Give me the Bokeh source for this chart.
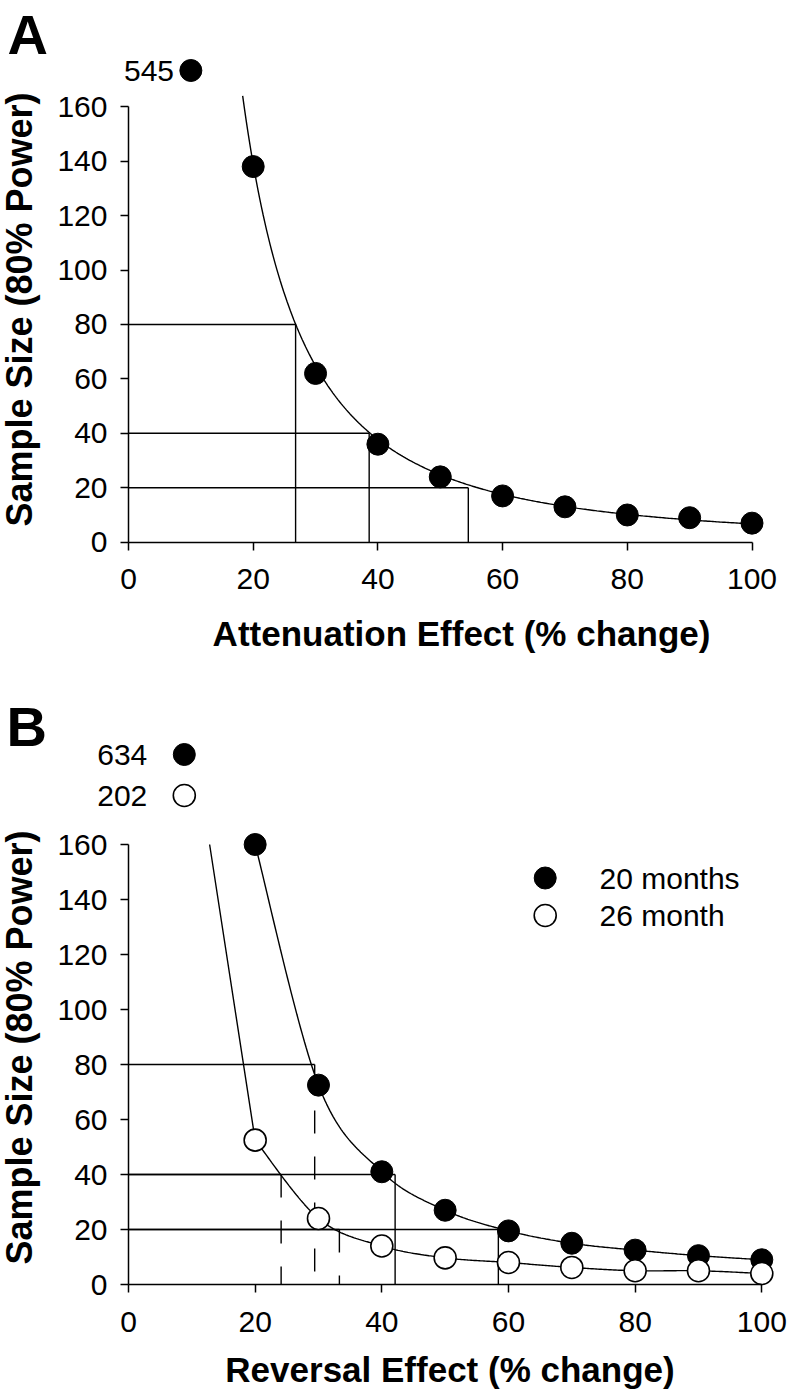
import numpy as np
from bokeh.plotting import figure
from bokeh.layouts import column
from bokeh.models import Range1d, FixedTicker
from bokeh.core.properties import value
from bokeh.embed import file_html
from bokeh.resources import INLINE

# ---------------- data ----------------
effect = [10, 20, 30, 40, 50, 60, 70, 80, 90, 100]
attenuation_n = [545, 138, 62, 36, 24, 17, 13, 10, 9, 7]
reversal_20mo_n = [634, 160, 72.5, 41, 27, 19.5, 15, 12.5, 10.5, 9]
reversal_26mo_n = [202, 52.5, 24, 14, 9.7, 8, 6.2, 5, 5, 4]

x_tick_values = [0, 20, 40, 60, 80, 100]
y_tick_values = [0, 20, 40, 60, 80, 100, 120, 140, 160]

att_ref_n = [80, 40, 20]
att_ref_effect = [26.8, 38.6, 54.5]
rev20_ref_n = [80, 40, 20]
rev20_ref_effect = [29.4, 42.1, 58.4]
rev26_ref_n = [40, 20]
rev26_ref_effect = [24.1, 33.3]

series_names = ["20 months", "26 month"]
panel_letters = ["A", "B"]
x_titles = ["Attenuation Effect (% change)", "Reversal Effect (% change)"]
y_title = "Sample Size (80% Power)"

# ---------------- style ----------------
FONT = "Liberation Sans"
BLACK = "#000000"
MARKER = 22
LW = 1.4
DEG90 = np.pi / 2
PAGE_W = 789
MID = 0.3465  # distance (in em) from the alphabetic baseline to the "middle" baseline


def catmull_rom(xs, ys, n=40):
    pts = np.column_stack([xs, ys]).astype(float)
    P = np.vstack([pts[0], pts, pts[-1]])
    out = []
    for i in range(1, len(P) - 2):
        p0, p1, p2, p3 = P[i - 1], P[i], P[i + 1], P[i + 2]
        c1 = p1 + (p2 - p0) / 6.0
        c2 = p2 - (p3 - p1) / 6.0
        t = np.linspace(0, 1, n)[:, None]
        seg = (1 - t) ** 3 * p1 + 3 * (1 - t) ** 2 * t * c1 + 3 * (1 - t) * t ** 2 * c2 + t ** 3 * p2
        out.append(seg if i == 1 else seg[1:])
    return np.vstack(out)


def smoothed_with_offscale(xs, ys, clip_top):
    """Straight piece from the off-scale first point, then a smooth line."""
    curve = catmull_rom(xs[1:], ys[1:])
    x0, y0, x1, y1 = xs[0], ys[0], xs[1], ys[1]
    if y1 < clip_top:
        xc = x0 + (y0 - clip_top) / (y0 - y1) * (x1 - x0)
        curve = np.vstack([[xc, clip_top], curve])
    return curve[:, 0], curve[:, 1]


class Panel:
    """A figure whose frame fills the whole canvas; axes are pinned at 0."""

    def __init__(self, height, x0_px, x_scale, y0_px, y_scale):
        self.x0, self.xs, self.y0, self.ys = x0_px, x_scale, y0_px, y_scale
        p = figure(frame_width=PAGE_W, frame_height=height,
                   x_range=Range1d(-x0_px / x_scale, (PAGE_W - x0_px) / x_scale),
                   y_range=Range1d(-(height - y0_px) / y_scale, y0_px / y_scale),
                   min_border=0, output_backend="svg", toolbar_location=None)
        p.xgrid.visible = False
        p.ygrid.visible = False
        p.outline_line_color = None
        for ax in (p.xaxis[0], p.yaxis[0]):
            ax.fixed_location = 0
            ax.axis_line_color = BLACK
            ax.axis_line_width = 1.5
            ax.major_tick_line_color = BLACK
            ax.major_tick_line_width = 1.5
            ax.major_tick_in = 0
            ax.major_tick_out = 8
            ax.minor_tick_line_color = None
            ax.major_label_text_font = FONT
            ax.major_label_text_font_size = "30px"
            ax.major_label_text_color = BLACK
        p.xaxis.ticker = FixedTicker(ticks=x_tick_values)
        p.yaxis.ticker = FixedTicker(ticks=y_tick_values)
        p.xaxis.bounds = (x_tick_values[0], x_tick_values[-1])
        p.yaxis.bounds = (y_tick_values[0], y_tick_values[-1])
        p.xaxis.major_label_standoff = 19
        p.yaxis.major_label_standoff = 13
        self.p = p

    def dx(self, px):
        return (px - self.x0) / self.xs

    def dy(self, py):
        return (self.y0 - py) / self.ys

    def title_text(self, px, py_baseline, text, size_px, align="left", vertical=False):
        """Bold text placed by its alphabetic baseline (given in pixels)."""
        shift = MID * size_px
        if vertical:
            x, y, angle = self.dx(px - shift), self.dy(py_baseline), DEG90
        else:
            x, y, angle = self.dx(px), self.dy(py_baseline - shift), 0.0
        self.p.text(x=[x], y=[y], text=[text], angle=angle, text_align=align,
                    text_baseline="middle", text_font=value(FONT),
                    text_font_size=f"{size_px}px", text_font_style="bold", text_color=BLACK)


# ---------------- panel A ----------------
A = Panel(height=680, x0_px=128, x_scale=6.235, y0_px=541.7, y_scale=2.722)
pA = A.p

pA.segment(x0=[0] * len(att_ref_n), y0=att_ref_n, x1=att_ref_effect, y1=att_ref_n,
           line_color=BLACK, line_width=LW)
pA.segment(x0=att_ref_effect, y0=[0] * len(att_ref_n), x1=att_ref_effect, y1=att_ref_n,
           line_color=BLACK, line_width=LW)

# power trend line fitted to the data
slope, intercept = np.polyfit(np.log(effect), np.log(attenuation_n), 1)
A_CLIP = 164.0
x_start = np.exp((np.log(A_CLIP) - intercept) / slope)
xs_fit = np.linspace(x_start, effect[-1], 300)
ys_fit = np.exp(intercept + slope * np.log(xs_fit))
pA.line(xs_fit, ys_fit, line_color=BLACK, line_width=LW)

pA.scatter(effect[1:], attenuation_n[1:], size=MARKER, fill_color=BLACK, line_color=BLACK)
# off-scale point shown above the axis with its value
A_OFF_Y = A.dy(70)
pA.scatter([effect[0]], [A_OFF_Y], size=MARKER, fill_color=BLACK, line_color=BLACK)
pA.text(x=[effect[0]], y=[A_OFF_Y], text=[str(attenuation_n[0])], x_offset=-16.8,
        text_align="right", text_baseline="middle", text_font=value(FONT),
        text_font_size="30px", text_color=BLACK)

A.title_text(7, 53, panel_letters[0], 56)
A.title_text(31.5, 309, y_title, 36, align="center", vertical=True)
A.title_text(461, 645, x_titles[0], 35, align="center")

# ---------------- panel B ----------------
B = Panel(height=713, x0_px=128, x_scale=6.333, y0_px=604, y_scale=2.75)
pB = B.p
TOP = 680  # page y of panel B's top edge

B_CLIP = 160.0
pB.segment(x0=[0] * len(rev20_ref_n), y0=rev20_ref_n, x1=rev20_ref_effect, y1=rev20_ref_n,
           line_color=BLACK, line_width=LW)
pB.segment(x0=[0] * len(rev26_ref_n), y0=rev26_ref_n, x1=rev26_ref_effect, y1=rev26_ref_n,
           line_color=BLACK, line_width=LW)
# vertical reference lines (first 20-month line and the 26-month lines dashed)
pB.segment(x0=rev20_ref_effect[1:], y0=rev20_ref_n[1:], x1=rev20_ref_effect[1:],
           y1=[0] * (len(rev20_ref_n) - 1), line_color=BLACK, line_width=LW)
dash_x = rev20_ref_effect[:1] + rev26_ref_effect
dash_y = rev20_ref_n[:1] + rev26_ref_n
pB.segment(x0=dash_x, y0=dash_y, x1=dash_x, y1=[0] * len(dash_x),
           line_color=BLACK, line_width=LW, line_dash="23 23")

cx, cy = smoothed_with_offscale(effect, reversal_20mo_n, B_CLIP)
pB.line(cx, cy, line_color=BLACK, line_width=LW)
cx, cy = smoothed_with_offscale(effect, reversal_26mo_n, B_CLIP)
pB.line(cx, cy, line_color=BLACK, line_width=LW)

pB.scatter(effect[1:], reversal_20mo_n[1:], size=MARKER, fill_color=BLACK, line_color=BLACK)
pB.scatter(effect[1:], reversal_26mo_n[1:], size=MARKER, fill_color="white", line_color=BLACK,
           line_width=1.6)

# off-scale values
B_OFF_X = B.dx(183.8)
B_OFF_Y = [B.dy(754 - TOP), B.dy(795 - TOP)]
pB.scatter([B_OFF_X], [B_OFF_Y[0]], size=MARKER, fill_color=BLACK, line_color=BLACK)
pB.scatter([B_OFF_X], [B_OFF_Y[1]], size=MARKER, fill_color="white",
           line_color=BLACK, line_width=1.6)
pB.text(x=[B_OFF_X] * 2, y=B_OFF_Y, text=[str(reversal_20mo_n[0]), str(reversal_26mo_n[0])],
        x_offset=-37, text_align="right", text_baseline="middle", text_font=value(FONT),
        text_font_size="30px", text_color=BLACK)

# legend
LEG_X, LEG_TX = B.dx(544.7), B.dx(599)
LEG_Y = [B.dy(877.5 - TOP), B.dy(915 - TOP)]
pB.scatter([LEG_X], [LEG_Y[0]], size=MARKER, fill_color=BLACK, line_color=BLACK)
pB.scatter([LEG_X], [LEG_Y[1]], size=MARKER, fill_color="white", line_color=BLACK, line_width=1.6)
pB.text(x=[LEG_TX] * 2, y=LEG_Y, text=series_names, text_align="left", text_baseline="middle",
        text_font=value(FONT), text_font_size="30px", text_color=BLACK)

B.title_text(6, 745 - TOP, panel_letters[1], 56)
B.title_text(31.5, 1047 - TOP, y_title, 36, align="center", vertical=True)
B.title_text(449.5, 1381 - TOP, x_titles[1], 35, align="center")

layout = column(pA, pB, spacing=0)
open("out.html", "w").write(file_html(layout, INLINE))
